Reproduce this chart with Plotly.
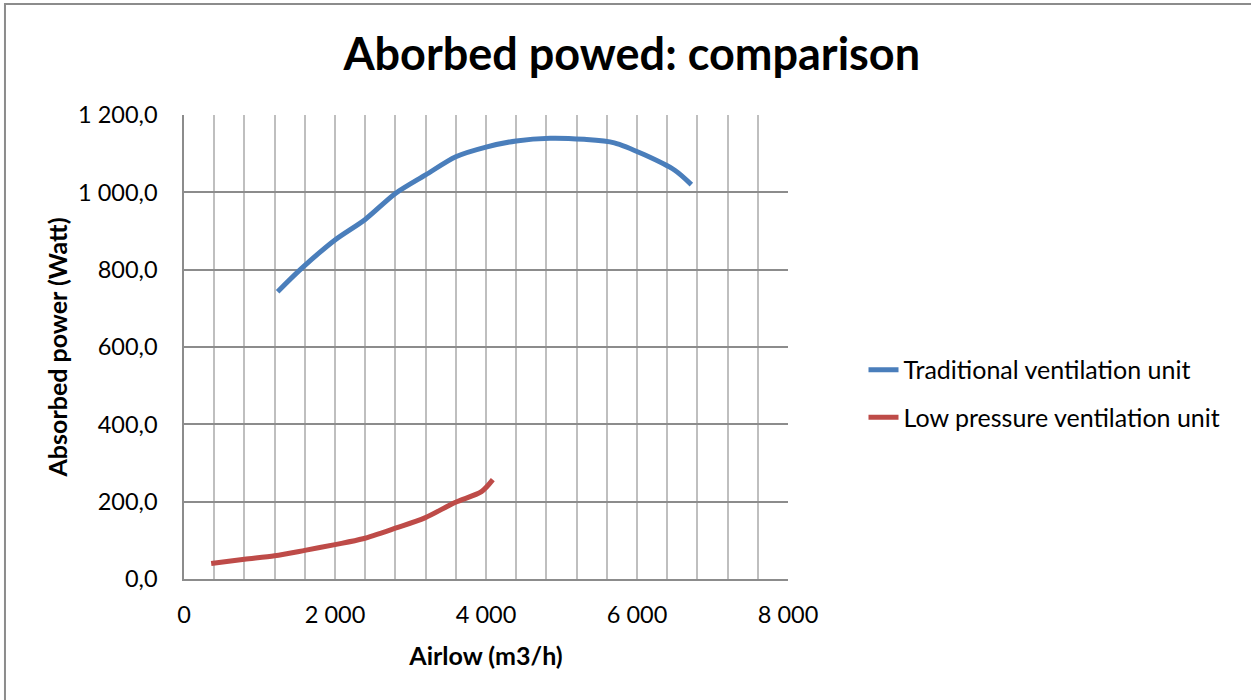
import plotly.graph_objects as go

# Data
trad_airflow = [1240, 1550, 2000, 2400, 2800, 3200, 3600, 4000, 4400, 4850, 5300, 5700, 6100, 6500, 6720]
trad_power = [743, 802, 877, 930, 997, 1045, 1092, 1117, 1133, 1140, 1137, 1128, 1097, 1057, 1020]

low_airflow = [360, 800, 1200, 1600, 2000, 2370, 2810, 3190, 3590, 3940, 4090]
low_power = [40, 51, 60, 74, 89, 104, 132, 158, 198, 226, 257]

series_names = ["Traditional ventilation unit", "Low pressure ventilation unit"]
series_colors = ["#4a7ebb", "#be4b48"]

x_tick_vals = [0, 2000, 4000, 6000, 8000]
x_tick_text = ["0", "2 000", "4 000", "6 000", "8 000"]
y_tick_vals = [0, 200, 400, 600, 800, 1000, 1200]
y_tick_text = ["0,0", "200,0", "400,0", "600,0", "800,0", "1 000,0", "1 200,0"]

FONT = "Lato"

fig = go.Figure()
for xs, ys, name, color, grp in [
    (trad_airflow, trad_power, series_names[0], series_colors[0], "a"),
    (low_airflow, low_power, series_names[1], series_colors[1], "b"),
]:
    fig.add_trace(go.Scatter(
        x=xs, y=ys, mode="lines", name=name, legendgroup=grp,
        line=dict(color=color, width=5, shape="spline", smoothing=0.8),
    ))

fig.update_layout(
    width=1251, height=700,
    margin=dict(l=184, r=463, t=115, b=121),
    paper_bgcolor="white", plot_bgcolor="white",
    font=dict(family=FONT, color="black"),
    title=dict(text="<b>Aborbed powed: comparison</b>", x=0.505, xanchor="center",
               y=0.922, yanchor="middle", font=dict(size=45, family=FONT, color="black")),
    legend=dict(x=1.125, y=0.40, xanchor="left", yanchor="middle",
                font=dict(size=25, family=FONT, color="black"),
                tracegroupgap=12, bgcolor="rgba(0,0,0,0)"),
    showlegend=True,
)

fig.update_xaxes(
    range=[0, 8000], tickvals=x_tick_vals, ticktext=x_tick_text,
    showgrid=True, gridcolor="#bfbfbf", gridwidth=1.5,
    minor=dict(dtick=400, tick0=0, showgrid=True, gridcolor="#bfbfbf", gridwidth=1.5),
    showline=True, linecolor="#8c8c8c", linewidth=1.5,
    zeroline=False, ticks="", ticklabelstandoff=14,
    tickfont=dict(size=23.5, family=FONT, color="black"),
    title=dict(text="<b>Airlow (m3/h)</b>", font=dict(size=25, family=FONT, color="black"), standoff=21),
)
fig.update_yaxes(
    range=[0, 1200], tickvals=y_tick_vals, ticktext=y_tick_text,
    showgrid=True, gridcolor="#8c8c8c", gridwidth=1.5,
    showline=True, linecolor="#8c8c8c", linewidth=1.5,
    zeroline=False, ticks="", ticklabelstandoff=20,
    tickfont=dict(size=23.5, family=FONT, color="black"),
    title=dict(text="<b>Absorbed power (Watt)</b>", font=dict(size=25, family=FONT, color="black"), standoff=3),
)

# outer chart border
fig.add_shape(type="rect", xref="paper", yref="paper",
              x0=-0.2964, y0=-1.0, x1=2.0, y1=1.2392,
              line=dict(color="#8c8c8c", width=2), fillcolor="rgba(0,0,0,0)", layer="below")

fig.write_html("out.html", config={"displayModeBar": False},
               post_script="document.body.style.margin='0';")
